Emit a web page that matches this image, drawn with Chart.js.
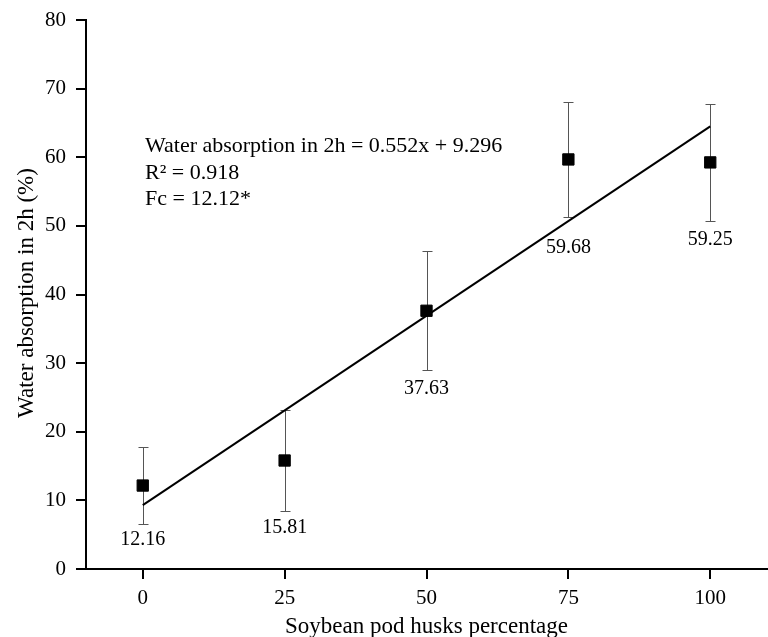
<!DOCTYPE html>
<html>
<head>
<meta charset="utf-8">
<script src="https://cdn.jsdelivr.net/npm/chart.js@4.4.0/dist/chart.umd.min.js"></script>
<style>
    body { margin: 0; background: #fff; }
    canvas { display: block; }
</style>
</head>
<body>
<canvas id="graphique" width="768" height="637"></canvas>
<script>
const categories = [0, 25, 50, 75, 100];
const moyennes = [12.16, 15.81, 37.63, 59.68, 59.25];
const ecarts = [5.6, 7.3, 8.7, 8.4, 8.5];
const droiteX = [0, 100];
const droiteY = [9.3, 64.5];
const xTicks = [0, 25, 50, 75, 100];
const yTicks = [0, 10, 20, 30, 40, 50, 60, 70, 80];
const equation = ["Water absorption in 2h = 0.552x + 9.296", "R\u00b2 = 0.918", "Fc = 12.12*"];
const titreX = "Soybean pod husks percentage";
const titreY = "Water absorption in 2h (%)";

const police = "'Liberation Serif', 'Times New Roman', serif";

// decalage vertical des etiquettes sous les barres d'erreur
const decalages = [16, 17, 18, 31, 19];

const points = categories.map(function(x, i) {
    return { x: x, y: moyennes[i] };
});
const droite = droiteX.map(function(x, i) {
    return { x: x, y: droiteY[i] };
});

const pluginDessin = {
    id: "dessin",
    beforeDatasetsDraw(chart) {
        const ctx = chart.ctx;
        const sx = chart.scales.x;
        const sy = chart.scales.y;
        ctx.save();
        ctx.strokeStyle = "#555";
        ctx.lineWidth = 1;
        categories.forEach(function(x, i) {
            const px = Math.round(sx.getPixelForValue(x)) + 0.5;
            const haut = Math.round(sy.getPixelForValue(moyennes[i] + ecarts[i])) + 0.5;
            const bas = Math.round(sy.getPixelForValue(moyennes[i] - ecarts[i])) + 0.5;
            ctx.beginPath();
            ctx.moveTo(px, haut);
            ctx.lineTo(px, bas);
            ctx.moveTo(px - 5, haut);
            ctx.lineTo(px + 5, haut);
            ctx.moveTo(px - 5, bas);
            ctx.lineTo(px + 5, bas);
            ctx.stroke();
        });
        ctx.restore();
    },
    afterDraw(chart) {
        const ctx = chart.ctx;
        const sx = chart.scales.x;
        const sy = chart.scales.y;
        const zone = chart.chartArea;
        ctx.save();
        ctx.fillStyle = "#000";

        ctx.font = "20px " + police;
        ctx.textAlign = "center";
        ctx.textBaseline = "middle";
        categories.forEach(function(x, i) {
            const px = sx.getPixelForValue(x);
            const bas = sy.getPixelForValue(moyennes[i] - ecarts[i]);
            ctx.fillText(moyennes[i].toFixed(2), px, bas + decalages[i]);
        });

        ctx.font = "22px " + police;
        ctx.textAlign = "left";
        ctx.textBaseline = "alphabetic";
        equation.forEach(function(ligne, i) {
            ctx.fillText(ligne, 145, 152 + i * 26.5);
        });

        ctx.font = "23px " + police;
        ctx.textAlign = "center";
        ctx.fillText(titreX, (zone.left + zone.right) / 2, 633);

        ctx.translate(33, 293);
        ctx.rotate(-Math.PI / 2);
        ctx.fillText(titreY, 0, 0);
        ctx.restore();
    }
};

new Chart(document.getElementById("graphique"), {
    type: "scatter",
    data: {
        datasets: [{
            label: "Regression",
            type: "line",
            data: droite,
            borderColor: "#000",
            borderWidth: 2,
            pointRadius: 0,
            fill: false
        }, {
            label: "Water absorption",
            data: points,
            pointStyle: "rect",
            pointRadius: 8,
            pointHoverRadius: 8,
            backgroundColor: "#000",
            borderColor: "#000",
            borderWidth: 1
        }]
    },
    options: {
        responsive: false,
        animation: false,
        layout: {
            autoPadding: false,
            padding: { top: 20, right: 1, left: 0, bottom: 0 }
        },
        plugins: {
            legend: { display: false },
            tooltip: { enabled: false }
        },
        scales: {
            x: {
                type: "linear",
                min: -10,
                max: 110,
                afterBuildTicks: function(scale) {
                    scale.ticks = xTicks.map(function(v) { return { value: v }; });
                },
                afterFit: function(scale) {
                    scale.height = 68;
                    scale.paddingLeft = 0;
                    scale.paddingRight = 0;
                },
                grid: {
                    drawOnChartArea: false,
                    drawTicks: true,
                    tickLength: 10,
                    tickColor: "#000",
                    lineWidth: 2
                },
                border: { display: true, color: "#000", width: 2 },
                ticks: {
                    color: "#000",
                    padding: 7,
                    maxRotation: 0,
                    font: { family: police, size: 21 }
                }
            },
            y: {
                min: 0,
                max: 80,
                afterBuildTicks: function(scale) {
                    scale.ticks = yTicks.map(function(v) { return { value: v }; });
                },
                afterFit: function(scale) {
                    scale.width = 86;
                    scale.paddingTop = 0;
                    scale.paddingBottom = 0;
                },
                grid: {
                    drawOnChartArea: false,
                    drawTicks: true,
                    tickLength: 10,
                    tickColor: "#000",
                    lineWidth: 2
                },
                border: { display: true, color: "#000", width: 2 },
                ticks: {
                    color: "#000",
                    padding: 10,
                    font: { family: police, size: 21 }
                }
            }
        }
    },
    plugins: [pluginDessin]
});
</script>
</body>
</html>
